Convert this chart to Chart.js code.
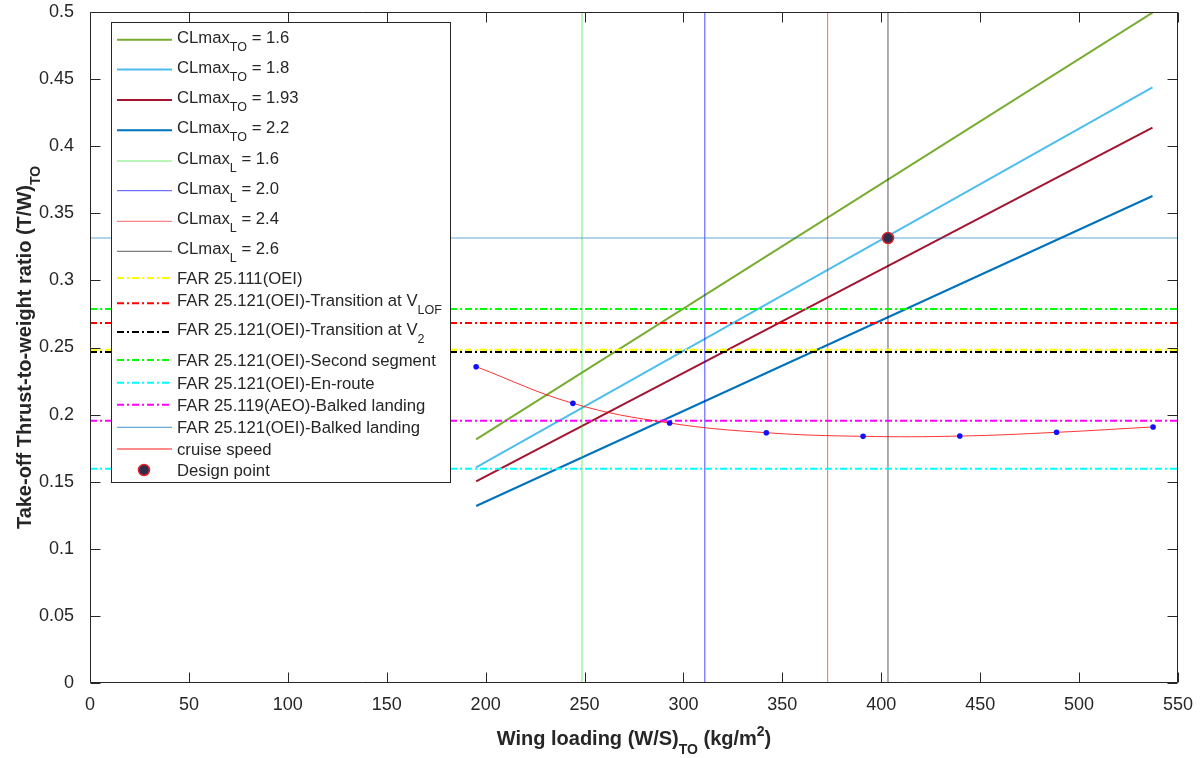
<!DOCTYPE html>
<html><head><meta charset="utf-8">
<script src="https://cdn.jsdelivr.net/npm/chart.js@4.4.1/dist/chart.umd.min.js"></script>
<style>html,body{margin:0;padding:0;background:#fff;}#wrap{width:1201px;height:758px;}</style>
</head><body>
<div id="wrap"><canvas id="c" width="1201" height="758"></canvas></div>
<script>
// ---------------- data ----------------
const xTicks = [0, 50, 100, 150, 200, 250, 300, 350, 400, 450, 500, 550];
const yTicks = [0, 0.05, 0.1, 0.15, 0.2, 0.25, 0.3, 0.35, 0.4, 0.45, 0.5];
const xTitle = 'Wing loading (W/S)_{TO} (kg/m^{2})';
const yTitle = 'Take-off Thrust-to-weight ratio (T/W)_{TO}';

const clmaxTO = ['1.6', '1.8', '1.93', '2.2'];
const takeoffWS = [195.2, 537.1];
const takeoffTW_16 = [0.1816, 0.4995];
const takeoffTW_18 = [0.1607, 0.4439];
const takeoffTW_193 = [0.1503, 0.4138];
const takeoffTW_22 = [0.1319, 0.3629];

const clmaxL = ['1.6', '2.0', '2.4', '2.6'];
const landingWS = [248.7, 310.8, 372.9, 403.4];

const farLabels = ['FAR 25.111(OEI)', 'FAR 25.121(OEI)-Transition at V_{LOF}', 'FAR 25.121(OEI)-Transition at V_{2}',
  'FAR 25.121(OEI)-Second segment', 'FAR 25.121(OEI)-En-route', 'FAR 25.119(AEO)-Balked landing', 'FAR 25.121(OEI)-Balked landing'];
const farTW = [0.2484, 0.2683, 0.2466, 0.2787, 0.1597, 0.1955, 0.3316];

const cruiseWS = [195.2, 244.1, 293.0, 341.9, 390.8, 439.7, 488.6, 537.4];
const cruiseTW = [0.2357, 0.2084, 0.1937, 0.1865, 0.1838, 0.1840, 0.1868, 0.1908];

const designWS = [403.4];
const designTW = [0.3316];

// ---------------- styles ----------------
const FONT = '"Liberation Sans", Arial, Helvetica, sans-serif';
const toColors = ['#77AC30', '#4DBEEE', '#A2142F', '#0072BD'];
const landColors = ['rgba(0,220,0,0.55)', 'rgba(0,0,255,0.7)', 'rgba(255,0,0,0.6)', 'rgba(0,0,0,0.65)'];
const farColors = ['#FFFF00', '#FF0000', '#000000', '#00FF00', '#00FFFF', '#FF00FF', 'rgba(0,114,189,0.6)'];
const farDash = [[7,3,2,3],[7,3,2,3],[7,3,2,3],[7,3,2,3],[7,3,2,3],[7,3,2,3],[]];
const farWidth = [2,2,2,2,2,2,1.2];

const xMin = xTicks[0], xMax = xTicks[xTicks.length-1];
const yMin = yTicks[0], yMax = yTicks[yTicks.length-1];

// ---------------- datasets ----------------
const datasets = [];
const legendItems = [];
const toSeries = [takeoffTW_16, takeoffTW_18, takeoffTW_193, takeoffTW_22];
toSeries.forEach((arr, i) => {
  const label = 'CLmax_{TO} = ' + clmaxTO[i];
  datasets.push({label, data: takeoffWS.map((x, k) => ({x, y: arr[k]})), borderColor: toColors[i], borderWidth: 2, showLine: true, pointRadius: 0, fill: false});
  legendItems.push({label, type: 'line', color: toColors[i], width: 2, dash: []});
});
landingWS.forEach((ws, i) => {
  const label = 'CLmax_{L} = ' + clmaxL[i];
  datasets.push({label, data: [{x: ws, y: yMin}, {x: ws, y: yMax}], borderColor: landColors[i], borderWidth: 1, showLine: true, pointRadius: 0, fill: false});
  legendItems.push({label, type: 'line', color: landColors[i], width: 1, dash: []});
});
farTW.forEach((tw, i) => {
  datasets.push({label: farLabels[i], data: [{x: xMin, y: tw}, {x: xMax, y: tw}], borderColor: farColors[i], borderWidth: farWidth[i], borderDash: farDash[i], showLine: true, pointRadius: 0, fill: false});
  legendItems.push({label: farLabels[i], type: 'line', color: farColors[i], width: farWidth[i], dash: farDash[i]});
});
datasets.push({label: 'cruise speed', data: cruiseWS.map((x, k) => ({x, y: cruiseTW[k]})), borderColor: 'rgba(255,0,0,0.8)', borderWidth: 1, showLine: true, tension: 0.4, pointRadius: 0, fill: false});
legendItems.push({label: 'cruise speed', type: 'line', color: 'rgba(255,0,0,0.9)', width: 1, dash: []});
datasets.push({label: 'cruise points', data: cruiseWS.map((x, k) => ({x, y: cruiseTW[k]})), showLine: false, pointRadius: 2.8, pointBackgroundColor: '#1010ff', pointBorderWidth: 0});
datasets.push({label: 'Design point', data: designWS.map((x, k) => ({x, y: designTW[k]})), showLine: false, pointRadius: 5.5, pointBackgroundColor: '#2b2f4d', pointBorderColor: '#e3202a', pointBorderWidth: 1.5});
legendItems.push({label: 'Design point', type: 'point'});
datasets.forEach((d, i) => { d.order = -i; });

// ---------------- rich text helpers ----------------
function parseRich(s) {
  const segs = []; const re = /([_^])\{([^}]*)\}/g; let last = 0, m;
  while ((m = re.exec(s))) {
    if (m.index > last) segs.push({t: s.slice(last, m.index), m: 'n'});
    segs.push({t: m[2], m: m[1] === '_' ? 'sub' : 'sup'});
    last = re.lastIndex;
  }
  if (last < s.length) segs.push({t: s.slice(last), m: 'n'});
  return segs;
}
function drawRich(ctx, str, x, y, o) {
  const segs = parseRich(str);
  const f = s => `${o.weight || 'normal'} ${s.m === 'n' ? o.size : o.subSize}px ${FONT}`;
  let total = 0;
  segs.forEach(s => { ctx.font = f(s); s.w = ctx.measureText(s.t).width; total += s.w; });
  let cx = o.align === 'center' ? x - total / 2 : x;
  ctx.textAlign = 'left'; ctx.textBaseline = 'alphabetic'; ctx.fillStyle = o.color || '#262626';
  segs.forEach(s => {
    ctx.font = f(s);
    const dy = s.m === 'sub' ? o.subDy : (s.m === 'sup' ? o.supDy : 0);
    ctx.fillText(s.t, cx, y + dy); cx += s.w;
  });
}

// ---------------- plugins ----------------
const framePlugin = {
  id: 'frame',
  afterDatasetsDraw(chart) {
    const ctx = chart.ctx, a = chart.chartArea;
    const xs = chart.scales.x, ys = chart.scales.y;
    const L = Math.round(a.left) + 0.5, R = Math.round(a.right) - 0.5, T = Math.round(a.top) + 0.5, B = Math.round(a.bottom) - 0.5;
    ctx.save();
    ctx.strokeStyle = '#262626'; ctx.lineWidth = 1; ctx.setLineDash([]);
    ctx.beginPath();
    ctx.rect(L, T, R - L, B - T);
    xTicks.forEach(v => {
      const p = Math.round(xs.getPixelForValue(v)) + 0.5;
      ctx.moveTo(p, B); ctx.lineTo(p, B - 10);
      ctx.moveTo(p, T); ctx.lineTo(p, T + 10);
    });
    yTicks.forEach(v => {
      const p = Math.round(ys.getPixelForValue(v)) + 0.5;
      ctx.moveTo(L, p); ctx.lineTo(L + 10, p);
      ctx.moveTo(R, p); ctx.lineTo(R - 10, p);
    });
    ctx.stroke();

    // legend box
    const bx = 111.5, by = 22.5, bw = 339, bh = 460;
    ctx.fillStyle = '#ffffff';
    ctx.fillRect(bx, by, bw, bh);
    ctx.strokeStyle = '#262626'; ctx.strokeRect(bx, by, bw, bh);
    const rowY = [39.7, 69.5, 100, 130.3, 161, 190.7, 221.3, 251.3, 278, 303.3, 332, 360, 382.7, 404.7, 427.3, 449, 470];
    legendItems.forEach((it, i) => {
      const y = rowY[i];
      if (it.type === 'line') {
        ctx.beginPath(); ctx.strokeStyle = it.color; ctx.lineWidth = it.width; ctx.setLineDash(it.dash);
        ctx.moveTo(117, y); ctx.lineTo(172, y); ctx.stroke(); ctx.setLineDash([]);
      } else {
        ctx.beginPath(); ctx.arc(144, y, 5.5, 0, Math.PI * 2);
        ctx.fillStyle = '#2b2f4d'; ctx.fill(); ctx.lineWidth = 1.5; ctx.strokeStyle = '#e3202a'; ctx.stroke();
      }
      const hasSub = it.label.indexOf('_{') >= 0;
      drawRich(ctx, it.label, 177, y + (hasSub ? 3 : 6), {size: 16.7, subSize: 12.5, subDy: 8, supDy: -7, color: '#262626'});
    });
    ctx.restore();
  },
  afterDraw(chart) {
    const ctx = chart.ctx, a = chart.chartArea;
    ctx.save();
    drawRich(ctx, xTitle, (a.left + a.right) / 2, 745, {weight: 'bold', size: 20, subSize: 14, subDy: 9, supDy: -9, align: 'center', color: '#262626'});
    ctx.translate(31, (a.top + a.bottom) / 2);
    ctx.rotate(-Math.PI / 2);
    drawRich(ctx, yTitle, 0, 0, {weight: 'bold', size: 20, subSize: 14, subDy: 9, supDy: -9, align: 'center', color: '#262626'});
    ctx.restore();
  }
};

new Chart(document.getElementById('c'), {
  type: 'scatter',
  data: {datasets},
  options: {
    responsive: false, animation: false,
    layout: {padding: {top: 12, right: 23, left: 0, bottom: 0}},
    plugins: {legend: {display: false}, tooltip: {enabled: false}},
    elements: {line: {borderCapStyle: 'butt'}},
    scales: {
      x: {
        type: 'linear', min: xMin, max: xMax,
        afterFit: s => { s.height = 75; s.paddingLeft = 0; s.paddingRight = 0; },
        afterBuildTicks: s => { s.ticks = xTicks.map(v => ({value: v})); },
        grid: {display: false}, border: {display: false},
        ticks: {padding: 3, maxRotation: 0, autoSkip: false, color: '#262626', font: {family: FONT, size: 18}, callback: v => String(v)}
      },
      y: {
        type: 'linear', min: yMin, max: yMax,
        afterFit: s => { s.width = 90; s.paddingTop = 0; s.paddingBottom = 0; },
        afterBuildTicks: s => { s.ticks = yTicks.map(v => ({value: v})); },
        grid: {display: false}, border: {display: false},
        ticks: {padding: 8, autoSkip: false, color: '#262626', font: {family: FONT, size: 18}, callback: v => String(Number(v.toFixed(2)))}
      }
    }
  },
  plugins: [framePlugin]
});
</script>
</body></html>
